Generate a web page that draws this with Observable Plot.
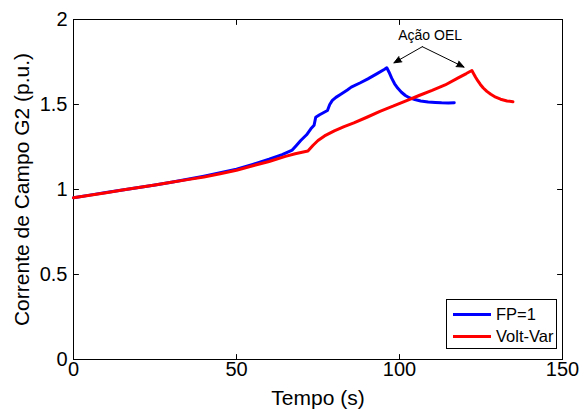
<!DOCTYPE html>
<html>
<head>
<meta charset="utf-8">
<script src="https://cdn.jsdelivr.net/npm/d3@7"></script>
<script src="https://cdn.jsdelivr.net/npm/@observablehq/plot@0.6"></script>
<style>
  body { margin: 0; background: #fff; font-family: "Liberation Sans", Arial, Helvetica, sans-serif; }
  #chart { position: relative; width: 588px; height: 409px; }
  #chart svg { display: block; }
  .legend {
    position: absolute; left: 446px; top: 299px; width: 111px; height: 50px;
    border: 1px solid #000; background: #fff; box-sizing: border-box;
    font-size: 16.5px; color: #000; padding-top: 3px;
  }
  .legend .row { display: flex; align-items: center; height: 22px; }
  .legend .sw { width: 38px; height: 3px; margin-left: 6px; margin-right: 5px; }
</style>
</head>
<body>
<div id="chart"></div>
<script>
// Field current of generator G2 (p.u.) over time (s), two control strategies
const tempoFP = [0, 5, 10, 15, 20, 25, 30, 35, 40, 45, 50, 55, 60, 64, 67.1,
  68.3, 69.7, 71.5, 72.8, 73.8, 74.3, 75.5, 77.9, 78.6, 79.4, 80.5, 82, 84, 85.2, 88,
  90.3, 93, 95.3, 96.1, 96.8, 97.6, 98.5, 99.5, 100.6, 101.8, 103, 104.7, 106.5, 108.8, 111, 112.9, 115, 116.8];
const correnteFP = [0.951, 0.967, 0.982, 0.997, 1.012, 1.027, 1.043, 1.06, 1.078, 1.098, 1.12, 1.148, 1.178, 1.205, 1.232,
  1.258, 1.288, 1.322, 1.357, 1.378, 1.425, 1.44, 1.465, 1.5, 1.524, 1.542, 1.56, 1.585, 1.602, 1.628,
  1.651, 1.68, 1.706, 1.716, 1.69, 1.655, 1.622, 1.595, 1.572, 1.553, 1.54, 1.529, 1.521, 1.515, 1.512, 1.51, 1.509, 1.51];

const tempoVV = [0, 5, 10, 15, 20, 25, 30, 35, 40, 45, 50, 55, 60, 65, 68, 71.9,
  73.5, 75, 77, 80, 83, 86, 90, 94, 98, 102, 106, 110, 114, 118, 120.5, 122.2,
  122.7, 123.3, 124, 124.8, 125.7, 126.8, 128, 129.5, 131, 133, 134.8];
const correnteVV = [0.951, 0.966, 0.981, 0.997, 1.012, 1.027, 1.043, 1.058, 1.074, 1.093, 1.113, 1.14, 1.165, 1.195, 1.21, 1.226,
  1.26, 1.288, 1.315, 1.345, 1.37, 1.392, 1.425, 1.46, 1.49, 1.522, 1.553, 1.583, 1.615, 1.657, 1.682, 1.70,
  1.683, 1.662, 1.64, 1.618, 1.597, 1.577, 1.56, 1.543, 1.531, 1.521, 1.516];

const serieNomes = ["FP=1", "Volt-Var"];
const serieCores = ["#0000ff", "#ff0000"];
const xTicks = [0, 50, 100, 150];
const yTicks = [0, 0.5, 1, 1.5, 2];

// "Ação OEL" annotation: label and the two arrows pointing to the OEL limiter peaks
const oelTexto = [{t: 109.4, v: 1.905, texto: "Ação OEL"}];
const oelSetas = [
  {t1: 107, v1: 1.84, t2: 98.3, v2: 1.745},
  {t1: 107, v1: 1.84, t2: 119.8, v2: 1.72}
];

const fp = tempoFP.map((t, i) => ({t, v: correnteFP[i]}));
const vv = tempoVV.map((t, i) => ({t, v: correnteVV[i]}));

const font = "Liberation Sans, Arial, Helvetica, sans-serif";

// straight tick segment for Plot.vector, drawn from the anchor point
const tickShape = {draw(context, l) { context.moveTo(0, 0); context.lineTo(0, -l); }};
const tickOpts = {length: 5, anchor: "start", shape: tickShape, stroke: "#000", strokeWidth: 1};

const chart = Plot.plot({
  width: 588,
  height: 409,
  marginLeft: 73,
  marginRight: 26,
  marginTop: 19,
  marginBottom: 50,
  style: {fontFamily: font, fontSize: "20px", background: "#fff", color: "#000"},
  x: {domain: [0, 150]},
  y: {domain: [0, 2]},
  marks: [
    Plot.frame({stroke: "#000", strokeWidth: 1}),
    // inward ticks on all four sides
    Plot.vector(xTicks, {x: d => d, frameAnchor: "bottom", rotate: 0, ...tickOpts}),
    Plot.vector(xTicks, {x: d => d, frameAnchor: "top", rotate: 180, ...tickOpts}),
    Plot.vector(yTicks, {y: d => d, frameAnchor: "left", rotate: 90, ...tickOpts}),
    Plot.vector(yTicks, {y: d => d, frameAnchor: "right", rotate: -90, ...tickOpts}),
    // tick labels
    Plot.axisX(xTicks, {anchor: "bottom", tickSize: 0, tickPadding: 2, fontSize: 20, label: null, tickFormat: d => `${d}`}),
    Plot.axisY(yTicks, {anchor: "left", tickSize: 0, tickPadding: 6, fontSize: 20, label: null, tickFormat: d => `${d}`}),
    // axis titles
    Plot.text(["Tempo (s)"], {frameAnchor: "bottom", dy: 45, lineAnchor: "bottom", textAnchor: "middle", text: d => d, fontSize: 21}),
    Plot.text(["Corrente de Campo G2 (p.u.)"], {frameAnchor: "left", dx: -45, rotate: -90, lineAnchor: "bottom", textAnchor: "middle", text: d => d, fontSize: 21}),
    // curves
    Plot.line(fp, {x: "t", y: "v", stroke: serieCores[0], strokeWidth: 3}),
    Plot.line(vv, {x: "t", y: "v", stroke: serieCores[1], strokeWidth: 3}),
    // annotation
    Plot.arrow(oelSetas, {x1: "t1", y1: "v1", x2: "t2", y2: "v2", stroke: "#000", fill: "#000", strokeWidth: 1, headLength: 12, headAngle: 45}),
    Plot.text(oelTexto, {x: "t", y: "v", text: "texto", fontSize: 14})
  ]
});

const holder = document.getElementById("chart");
holder.appendChild(chart);

// legend box in the lower right corner of the axes
const legend = document.createElement("div");
legend.className = "legend";
serieNomes.forEach((nome, i) => {
  const row = document.createElement("div");
  row.className = "row";
  const sw = document.createElement("span");
  sw.className = "sw";
  sw.style.background = serieCores[i];
  const lab = document.createElement("span");
  lab.textContent = nome;
  row.appendChild(sw);
  row.appendChild(lab);
  legend.appendChild(row);
});
holder.appendChild(legend);
</script>
</body>
</html>
